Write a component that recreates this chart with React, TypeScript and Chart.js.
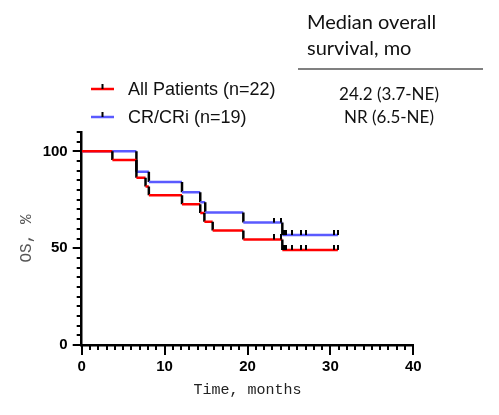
import React, { useEffect, useRef } from "react";
import { Chart, registerables } from "chart.js";

Chart.register(...registerables);

// ---- Data ----
const allTimes = [0, 3.7, 6.6, 7.7, 8.1, 12.1, 14.3, 14.8, 15.8, 19.5, 24.2];
const allSurv = [100, 95.5, 86.4, 81.8, 77.3, 72.7, 68.2, 63.6, 59.1, 54.5, 49.1];
const allCensor = [23.2, 24.0, 24.3, 24.4, 24.5, 24.6, 25.4, 26.5, 27.0, 30.4, 30.9];
const allEnd = 30.9;

const crTimes = [0, 6.6, 8.1, 12.1, 14.3, 14.9, 19.5, 24.2];
const crSurv = [100, 89.5, 84.2, 78.9, 73.7, 68.4, 63.2, 56.8];
const crCensor = [23.2, 24.0, 24.3, 24.4, 24.5, 24.6, 25.4, 26.5, 27.0, 30.4, 30.9];
const crEnd = 30.9;

const seriesNames = ["All Patients (n=22)", "CR/CRi (n=19)"];
const medianLabels = ["24.2 (3.7-NE)", "NR (6.5-NE)"];
const tableHeader = ["Median overall", "survival, mo"];

const xTicks = [0, 10, 20, 30, 40];
const yTicks = [0, 50, 100];

const RED = "#ff0000";
const BLUE = "#5a5aff";

function stepPoints(times: number[], surv: number[], end: number) {
  const pts: { x: number; y: number }[] = [{ x: times[0], y: surv[0] }];
  for (let i = 1; i < times.length; i++) {
    pts.push({ x: times[i], y: surv[i - 1] });
    pts.push({ x: times[i], y: surv[i] });
  }
  pts.push({ x: end, y: surv[surv.length - 1] });
  return pts;
}

function survAt(times: number[], surv: number[], t: number) {
  let s = surv[0];
  for (let i = 0; i < times.length; i++) if (times[i] <= t) s = surv[i];
  return s;
}

export default function App() {
  const ref = useRef<HTMLCanvasElement | null>(null);

  useEffect(() => {
    if (!ref.current) return;

    const mk = document.createElement("canvas");
    mk.width = 2;
    mk.height = 10;
    const mc = mk.getContext("2d")!;
    mc.fillStyle = "#000";
    mc.fillRect(0, 0, 2, 5);

    const tickPlugin = {
      id: "kmExtras",
      afterDraw(chart: any) {
        const ctx = chart.ctx as CanvasRenderingContext2D;
        const xs = chart.scales.x;
        const ys = chart.scales.y;
        const area = chart.chartArea;
        ctx.save();
        ctx.strokeStyle = "#000";
        ctx.lineWidth = 2;
        // x ticks
        for (let v = 0; v <= 40; v += 1) {
          const px = Math.round(xs.getPixelForValue(v));
          const len = v % 10 === 0 ? 10 : 5;
          ctx.beginPath();
          ctx.moveTo(px, area.bottom);
          ctx.lineTo(px, area.bottom + len);
          ctx.stroke();
        }
        // y ticks
        for (let v = 0; v <= 110; v += 5) {
          const py = Math.round(ys.getPixelForValue(v));
          const len = v % 50 === 0 ? 9 : 5;
          ctx.beginPath();
          ctx.moveTo(area.left, py);
          ctx.lineTo(area.left - len, py);
          ctx.stroke();
        }

        // legend
        const legendColors = [RED, BLUE];
        const legendY = [89, 117];
        ctx.font = "18px 'Liberation Sans', Arial, sans-serif";
        ctx.textBaseline = "middle";
        ctx.textAlign = "left";
        for (let i = 0; i < seriesNames.length; i++) {
          const y = legendY[i];
          ctx.strokeStyle = legendColors[i];
          ctx.lineWidth = 2.5;
          ctx.beginPath();
          ctx.moveTo(91, y);
          ctx.lineTo(114, y);
          ctx.stroke();
          ctx.fillStyle = "#000";
          ctx.fillRect(101.5, y - 5, 2, 5);
          ctx.fillStyle = "#111";
          ctx.fillText(seriesNames[i], 128, y + 1);
        }

        // median table
        ctx.fillStyle = "#111";
        ctx.font = "20px Lato, 'Open Sans', sans-serif";
        ctx.textBaseline = "alphabetic";
        ctx.fillText(tableHeader[0], 307, 29);
        ctx.fillText(tableHeader[1], 307, 55);
        ctx.strokeStyle = "#808080";
        ctx.lineWidth = 2;
        ctx.beginPath();
        ctx.moveTo(298, 69);
        ctx.lineTo(483, 69);
        ctx.stroke();
        ctx.font = "17px Lato, 'Open Sans', sans-serif";
        ctx.textAlign = "center";
        ctx.textBaseline = "middle";
        ctx.fillText(medianLabels[0], 389, 95);
        ctx.fillText(medianLabels[1], 389, 118);
        ctx.restore();
      },
    };

    const segColor = (color: string) => (c: any) =>
      c.p0.parsed.x === c.p1.parsed.x ? "#000" : color;

    const chart = new Chart(ref.current, {
      type: "line",
      data: {
        datasets: [
          {
            label: "censor-all",
            data: allCensor.map((t) => ({ x: t, y: survAt(allTimes, allSurv, t) })),
            showLine: false,
            pointStyle: mk as any,
            pointRadius: 3,
          },
          {
            label: "censor-cr",
            data: crCensor.map((t) => ({ x: t, y: survAt(crTimes, crSurv, t) })),
            showLine: false,
            pointStyle: mk as any,
            pointRadius: 3,
          },
          {
            label: seriesNames[0],
            data: stepPoints(allTimes, allSurv, allEnd),
            borderColor: RED,
            borderWidth: 2.5,
            pointRadius: 0,
            tension: 0,
            segment: { borderColor: segColor(RED) },
          },
          {
            label: seriesNames[1],
            data: stepPoints(crTimes, crSurv, crEnd),
            borderColor: BLUE,
            borderWidth: 2.5,
            pointRadius: 0,
            tension: 0,
            segment: { borderColor: segColor(BLUE) },
          },
        ],
      },
      options: {
        animation: false,
        responsive: false,
        layout: { padding: { top: 132, right: 85.7, left: 0, bottom: 0 } },
        plugins: { legend: { display: false }, tooltip: { enabled: false } },
        scales: {
          x: {
            type: "linear",
            min: 0,
            max: 40,
            afterBuildTicks: (s: any) => {
              s.ticks = xTicks.map((v) => ({ value: v }));
            },
            afterFit: (s: any) => {
              s.height = 70;
            },
            ticks: {
              font: { family: "'Liberation Sans', Arial, sans-serif", size: 15, weight: "bold" },
              color: "#000",
              padding: 3,
              maxRotation: 0,
            },
            grid: { drawOnChartArea: false, drawTicks: true, tickLength: 10, tickColor: "rgba(0,0,0,0)" },
            border: { display: true, color: "#000", width: 2.5 },
            title: {
              display: true,
              text: "Time, months",
              color: "#222",
              font: { family: "'Liberation Mono', monospace", size: 15 },
              padding: { top: 0, bottom: 16 },
            },
          },
          y: {
            type: "linear",
            min: 0,
            max: 110,
            afterBuildTicks: (s: any) => {
              s.ticks = yTicks.map((v) => ({ value: v }));
            },
            afterFit: (s: any) => {
              s.width = 81.7;
            },
            ticks: {
              font: { family: "'Liberation Sans', Arial, sans-serif", size: 15, weight: "bold" },
              color: "#000",
              padding: 4,
            },
            grid: { drawOnChartArea: false, drawTicks: true, tickLength: 10, tickColor: "rgba(0,0,0,0)" },
            border: { display: true, color: "#000", width: 2.5 },
            title: {
              display: true,
              text: "OS, %",
              color: "#555",
              font: { family: "'Liberation Mono', monospace", size: 16 },
              padding: { top: 17, bottom: 0 },
            },
          },
        },
      },
      plugins: [tickPlugin],
    });

    return () => chart.destroy();
  }, []);

  return (
    <div style={{ position: "absolute", left: 0, top: 0, width: 499, height: 415 }}>
      <canvas ref={ref} width={499} height={415} style={{ display: "block" }} />
    </div>
  );
}
